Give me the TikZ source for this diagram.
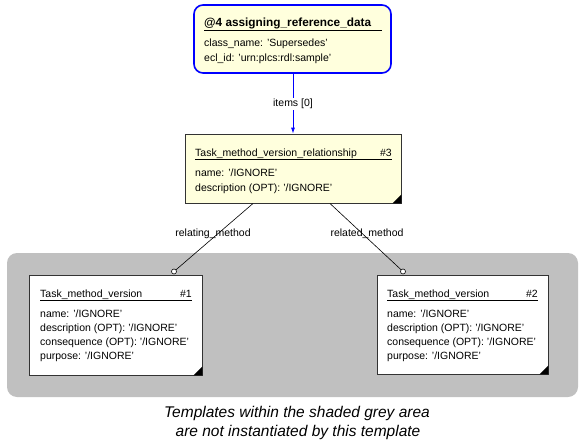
\documentclass[tikz,border=0pt]{standalone}
\usepackage{fontspec}
\setmainfont{Liberation Sans}
\usetikzlibrary{arrows.meta}
\definecolor{boxyellow}{RGB}{255,255,221}
\definecolor{greyarea}{RGB}{192,192,192}
\definecolor{linkblue}{RGB}{0,0,255}
\begin{document}
\begin{tikzpicture}[x=1pt,y=-1pt,
  txt/.style={anchor=base west,inner sep=0pt,font=\fontsize{10.5}{12}\selectfont},
  txtr/.style={anchor=base east,inner sep=0pt,font=\fontsize{10.5}{12}\selectfont},
  boldtxt/.style={anchor=base west,inner sep=0pt,font=\fontsize{11.8}{13}\selectfont\bfseries},
  entbox/.style={draw=black!80,line width=0.8pt,fill=white,minimum width=#1,inner sep=0pt},
  cornertri/.style={fill=black},
  endcirc/.style={circle,draw=black,fill=white,inner sep=0pt,minimum size=5pt,line width=0.6pt},
  conn/.style={draw=black,line width=0.6pt},
  lbl/.style={inner sep=1pt,font=\fontsize{10.5}{12}\selectfont},
  caption/.style={font=\fontsize{15.5}{18}\selectfont\itshape,inner sep=0pt}
]
\useasboundingbox (0,0) rectangle (587,442);
\fill[white] (0,0) rectangle (587,442);
% grey area
\fill[fill=greyarea,rounded corners=10pt] (7,253) rectangle (578,397);

% box 4
\node[draw=linkblue,line width=1.6pt,fill=boxyellow,rounded corners=9pt,
      minimum width=197pt,minimum height=68pt,inner sep=0pt] (b4) at (292.5,39) {};
\node[boldtxt] (b4t) at (204,26) {@4 assigning\_reference\_data};
\draw[line width=0.8pt] (204,30) -- (382,30);
\node[txt] (b4a) at (204,46) {class\_name: 'Supersedes'};
\node[txt] (b4b) at (204,61) {ecl\_id: 'urn:plcs:rdl:sample'};

% box 3
\node[draw=black!80,line width=0.8pt,fill=boxyellow,minimum width=216pt,minimum height=69pt,inner sep=0pt] (b3) at (293,168.5) {};
\fill[cornertri] (b3.south east) -- ++(0,-9) -- ++(-9,9) -- cycle;
\node[txt] (b3t) at (195,156) {Task\_method\_version\_relationship};
\node[txtr] (b3n) at (392,156) {\#3};
\draw[line width=0.8pt] (195,159) -- (392,159);
\node[txt] (b3a) at (195,176) {name: '/IGNORE'};
\node[txt] (b3b) at (195,191) {description (OPT): '/IGNORE'};

% box 1
\node[entbox=173pt,minimum height=100pt] (b1) at (115.5,325) {};
\fill[cornertri] (b1.south east) -- ++(0,-9) -- ++(-9,9) -- cycle;
\node[txt] (b1t) at (40,297) {Task\_method\_version};
\node[txtr] (b1n) at (192,297) {\#1};
\draw[line width=0.8pt] (40,300.5) -- (192,300.5);
\node[txt] (b1a) at (40,317) {name: '/IGNORE'};
\node[txt] (b1b) at (40,331) {description (OPT): '/IGNORE'};
\node[txt] (b1c) at (40,345) {consequence (OPT): '/IGNORE'};
\node[txt] (b1d) at (40,359) {purpose: '/IGNORE'};

% box 2
\node[entbox=171pt,minimum height=99pt] (b2) at (462.5,324.5) {};
\fill[cornertri] (b2.south east) -- ++(0,-9) -- ++(-9,9) -- cycle;
\node[txt] (b2t) at (387,297) {Task\_method\_version};
\node[txtr] (b2n) at (538,297) {\#2};
\draw[line width=0.8pt] (387,300.5) -- (538,300.5);
\node[txt] (b2a) at (387,317) {name: '/IGNORE'};
\node[txt] (b2b) at (387,331) {description (OPT): '/IGNORE'};
\node[txt] (b2c) at (387,345) {consequence (OPT): '/IGNORE'};
\node[txt] (b2d) at (387,359) {purpose: '/IGNORE'};

% connectors
\draw[linkblue,line width=0.8pt,-{Latex[length=6pt,width=4pt]}] (b4.south -| 293,0) -- (b3.north -| 293,0)
  node[midway,fill=white,lbl,text=black] (l0) {items [0]};

\coordinate (s1) at (253,203.5);
\coordinate (s2) at (330,203.5);
\node[endcirc] (c1) at (174,271.5) {};
\node[endcirc] (c2) at (403,271.5) {};
\draw[conn] (s1) -- (c1);
\draw[conn] (s2) -- (c2);
\node[lbl] (l1) at (213,234) {relating\_method};
\node[lbl] (l2) at (367,234) {related\_method};

% caption
\node[caption] (cap1) at (297,413) {Templates within the shaded grey area};
\node[caption] (cap2) at (298,432) {are not instantiated by this template};
\end{tikzpicture}
\end{document}
